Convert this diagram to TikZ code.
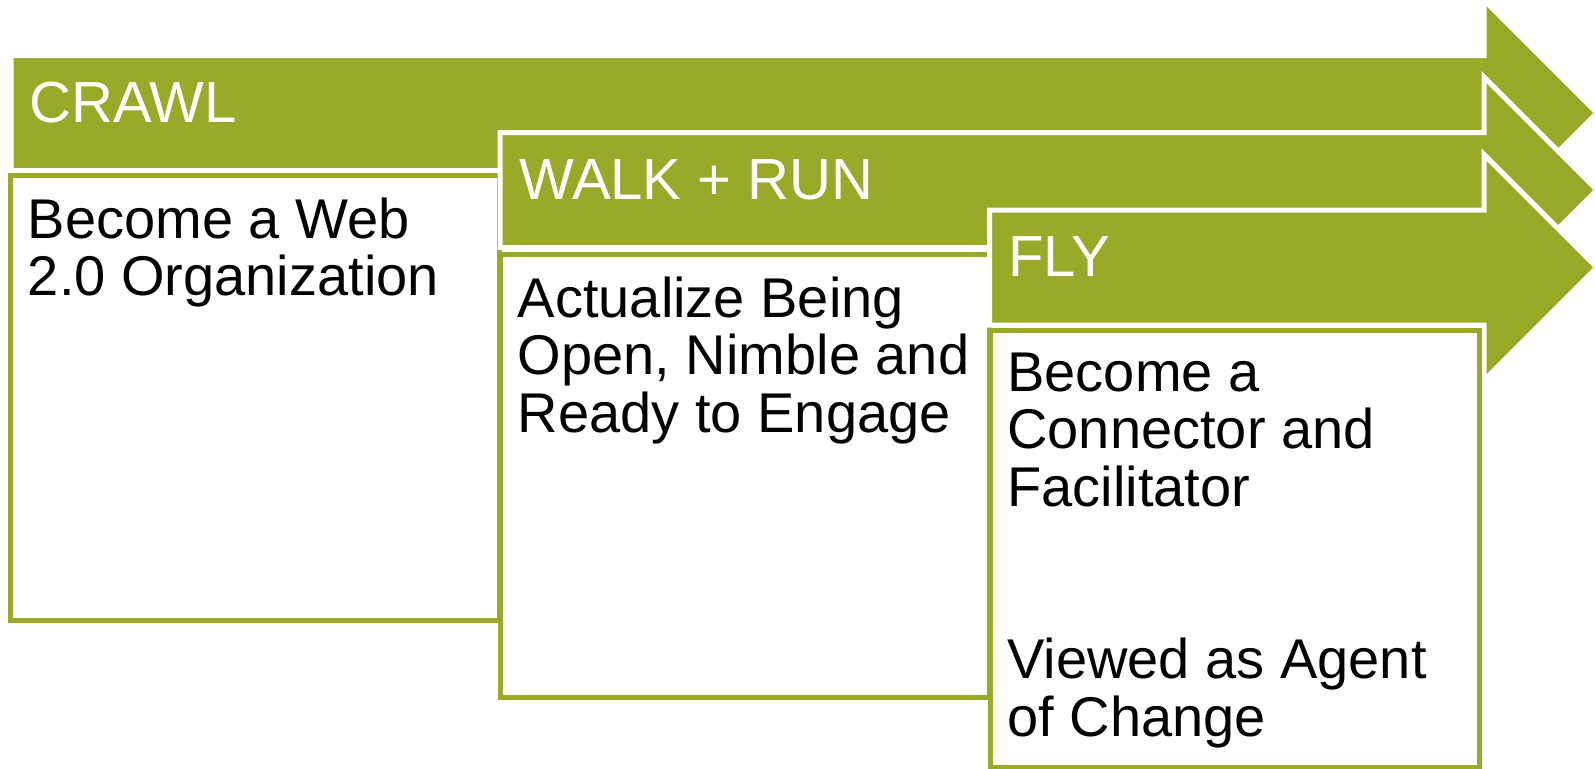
\documentclass[tikz,border=0pt]{standalone}
\usepackage{fontspec}
\setmainfont{Liberation Sans}
\usetikzlibrary{positioning}
\definecolor{leaf}{HTML}{9AA928}

\begin{document}
\begin{tikzpicture}[x=.5pt,y=-.5pt,
stage/.style={fill=leaf,draw=white,line width=2.5pt,line join=miter},
panel/.style={draw=leaf,fill=white,line width=2.5pt,minimum width=244.5pt,anchor=north west,inner sep=0pt,outer sep=0pt},
title/.style={text=white,font=\fontsize{29}{31}\selectfont,anchor=base west,inner sep=0pt},
body/.style={font=\fontsize{28}{28.75}\selectfont,align=left,anchor=north west,inner sep=0pt,execute at begin node=\strut}]
\useasboundingbox (0,0) rectangle (1595,768);
% crawl
\path[stage] (11,55.5)--(1484,55.5)--(1484,0)--(1597,113)--(1484,226)--(1484,170.5)--(11,170.5)--cycle;
\node[title] (crawl) at (29,122) {CRAWL};
\node[panel,minimum height=222.5pt] (p1) at (10.5,175.5) {};
\node[body] (t1) at ([shift={(17,22)}]p1.north west) {Become a Web\\2.0 Organization};
% walk + run
\path[stage] (500,132.5)--(1484,132.5)--(1484,77)--(1597,190)--(1484,303)--(1484,247.5)--(500,247.5)--cycle;
\node[title] (walk) at (519,199) {WALK + RUN};
\node[panel,minimum height=221.5pt] (p2) at (500.5,254.5) {};
\node[body] (t2) at ([shift={(17,22)}]p2.north west) {Actualize Being\\Open, Nimble and\\Ready to Engage};
% fly
\path[stage] (989.5,210)--(1484,210)--(1484,154.5)--(1597,267.5)--(1484,380.5)--(1484,325)--(989.5,325)--cycle;
\node[title] (fly) at (1008,276) {FLY};
\node[panel,minimum height=218.5pt] (p3) at (990,330.5) {};
\node[body] (t3) at ([shift={(17,22)}]p3.north west) {Become a\\Connector and\\Facilitator\\[57.5pt]Viewed as Agent\\of Change};
\end{tikzpicture}
\end{document}
